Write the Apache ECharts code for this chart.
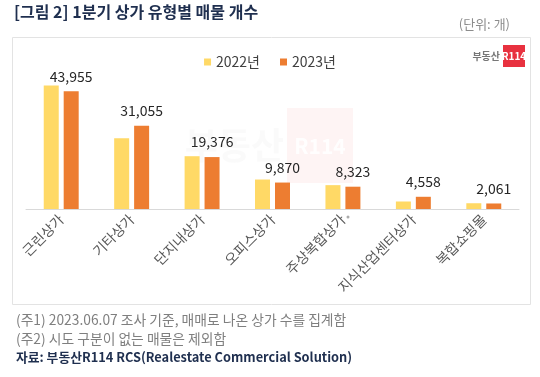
<!DOCTYPE html>
<html><head><meta charset="utf-8">
<script src="https://cdn.jsdelivr.net/npm/echarts@6/dist/echarts.min.js"></script>
<style>html,body{margin:0;padding:0;background:#fff;}#c{width:540px;height:377px;}</style>
</head><body><div id="c"></div>
<script>
const categories = ['근린상가','기타상가','단지내상가','오피스상가','주상복합상가','지식산업센터상가','복합쇼핑몰'];
const values2022 = [46100, 26400, 19700, 11000, 8900, 2800, 2150];
const values2023 = [43955, 31055, 19376, 9870, 8323, 4558, 2061];
const seriesNames = ['2022년', '2023년'];
const titleText = '[그림 2] 1분기 상가 유형별 매물 개수';
const unitText = '(단위: 개)';
const notes = ['(주1) 2023.06.07 조사 기준, 매매로 나온 상가 수를 집계함', '(주2) 시도 구분이 없는 매물은 제외함'];
const sourceText = '자료: 부동산R114 RCS(Realestate Commercial Solution)';

const FONT = '"Noto Sans CJK KR","Noto Sans",sans-serif';
const chart = echarts.init(document.getElementById('c'), null, {renderer: 'canvas'});
chart.setOption({
  backgroundColor: '#fff',
  textStyle: {fontFamily: FONT},
  animation: false,
  graphic: [
    {type: 'rect', shape: {x: 12.5, y: 37.5, width: 518, height: 267}, style: {fill: '#fff', stroke: '#e3e3e3', lineWidth: 1}, z: -10},
    {type: 'rect', shape: {x: 287, y: 108, width: 66, height: 75}, style: {fill: 'rgba(240,60,70,0.06)'}, z: -5},
    {type: 'text', x: 320, y: 146, style: {text: 'R114', fill: 'rgba(255,255,255,0.9)', font: 'bold 21px ' + FONT, align: 'center', verticalAlign: 'middle'}, z: -4},
    {type: 'text', x: 284, y: 145, style: {text: '부동산', fill: 'rgba(180,180,180,0.07)', font: 'bold 36px ' + FONT, align: 'right', verticalAlign: 'middle'}, z: -4},
    {type: 'text', left: 14, top: 4, style: {text: titleText, fill: '#1f2f4f', font: 'bold 16px ' + FONT}},
    {type: 'text', right: 30, top: 18, style: {text: unitText, fill: '#8c8c8c', font: '13px ' + FONT}},
    {type: 'text', x: 500, y: 56, style: {text: '부동산', fill: '#777', font: 'bold 10px ' + FONT, align: 'right', verticalAlign: 'middle'}},
    {type: 'rect', shape: {x: 503, y: 45, width: 22, height: 22}, style: {fill: '#e8313f'}},
    {type: 'text', x: 514, y: 56.5, style: {text: 'R114', fill: '#fff', font: 'bold 10px ' + FONT, align: 'center', verticalAlign: 'middle'}},
    {type: 'circle', shape: {cx: 348, cy: 217, r: 1.5}, style: {fill: '#aaa'}},
    {type: 'text', left: 16, top: 313, style: {text: notes[0], fill: '#7f7f7f', font: '13.8px ' + FONT}},
    {type: 'text', left: 16, top: 332, style: {text: notes[1], fill: '#7f7f7f', font: '13.8px ' + FONT}},
    {type: 'text', left: 16, top: 351, style: {text: sourceText, fill: '#1f2f4f', font: 'bold 12.8px ' + FONT}}
  ],
  legend: {
    data: seriesNames, top: 50, left: 'center', itemWidth: 7, itemHeight: 7, itemGap: 20,
    icon: 'rect', textStyle: {fontSize: 14, color: '#404040', fontFamily: FONT}
  },
  grid: {left: 26, right: 21, top: 75, bottom: 168, containLabel: false},
  xAxis: {
    type: 'category', data: categories,
    axisLine: {lineStyle: {color: '#d9d9d9'}}, axisTick: {show: false},
    axisLabel: {rotate: 45, fontSize: 14, color: '#595959', margin: 8, interval: 0, fontFamily: FONT}
  },
  yAxis: {type: 'value', min: 0, max: 50000, show: false, splitLine: {show: false}},
  series: [
    {name: seriesNames[0], type: 'bar', data: values2022, barWidth: 15, barGap: '33%', itemStyle: {color: '#FFD966'}},
    {name: seriesNames[1], type: 'bar', data: values2023, barWidth: 15, itemStyle: {color: '#ED7D31'},
     label: {show: true, position: 'top', distance: 8, fontSize: 14, color: '#262626', fontFamily: FONT,
       formatter: p => p.value.toLocaleString('en-US')}}
  ]
});
</script></body></html>
